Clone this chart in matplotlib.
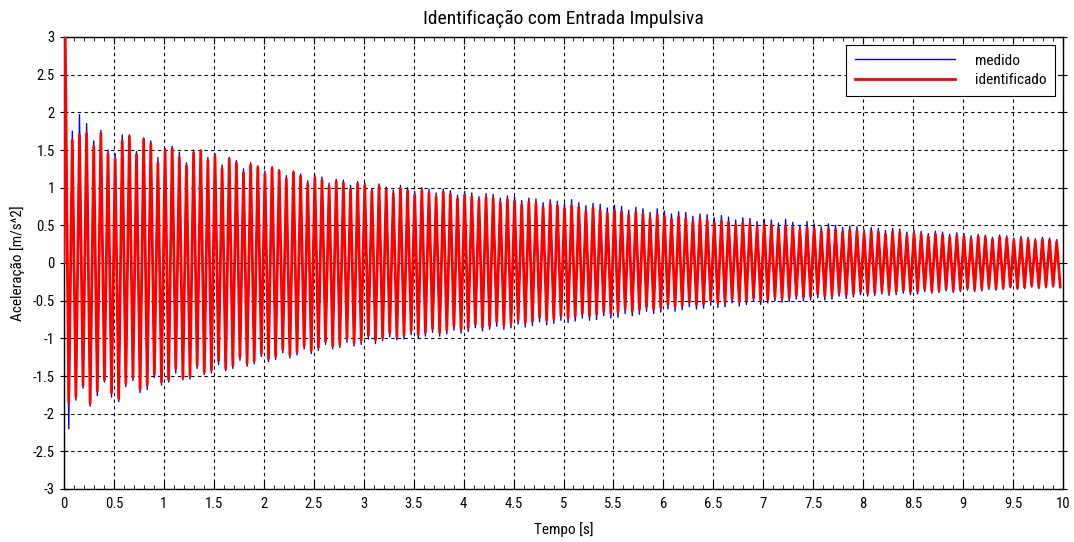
import numpy as np
import matplotlib
matplotlib.use("Agg")
import matplotlib.pyplot as plt
from matplotlib.ticker import MultipleLocator, FormatStrFormatter

plt.rcParams["font.family"] = ["Roboto Condensed", "DejaVu Sans"]

title = "Identificação com Entrada Impulsiva"
xlabel = "Tempo [s]"
ylabel = "Aceleração [m/s^2]"
labels = ["medido", "identificado"]

period = 0.0714       # oscillation period [s]
t_first = 0.012       # time of first peak [s]
start_value = 0.0

# identified signal: peak (max) and trough (min) of each cycle
upper_id = [3.05, 1.63, 1.70, 1.72, 1.55, 1.72, 1.45, 1.38, 1.62, 1.68,
            1.44, 1.64, 1.58, 1.33, 1.50, 1.52, 1.40, 1.29, 1.46, 1.49,
            1.36, 1.42, 1.25, 1.38, 1.33, 1.20, 1.30, 1.27, 1.18, 1.26,
            1.22, 1.12, 1.20, 1.15, 1.05, 1.13, 1.10, 1.02, 1.08, 1.06,
            0.98, 1.05, 1.03, 0.95, 1.02, 0.97, 0.92, 0.99, 0.96, 0.90,
            0.96, 0.93, 0.88, 0.94, 0.91, 0.85, 0.90, 0.88, 0.83, 0.87,
            0.86, 0.80, 0.84, 0.82, 0.77, 0.81, 0.79, 0.74, 0.78, 0.76,
            0.72, 0.76, 0.74, 0.69, 0.73, 0.70, 0.66, 0.70, 0.68, 0.63,
            0.67, 0.65, 0.60, 0.64, 0.62, 0.58, 0.61, 0.59, 0.55, 0.58,
            0.57, 0.53, 0.56, 0.54, 0.50, 0.53, 0.52, 0.48, 0.51, 0.50,
            0.46, 0.49, 0.48, 0.44, 0.47, 0.46, 0.42, 0.45, 0.44, 0.41,
            0.44, 0.43, 0.39, 0.42, 0.41, 0.38, 0.41, 0.40, 0.36, 0.39,
            0.38, 0.35, 0.38, 0.37, 0.34, 0.36, 0.35, 0.32, 0.35, 0.34,
            0.31, 0.34, 0.33, 0.30, 0.32, 0.31, 0.29, 0.31, 0.30, 0.28]
lower_id = [-1.85, -1.78, -1.62, -1.86, -1.70, -1.55, -1.72, -1.80, -1.60, -1.52,
            -1.68, -1.62, -1.48, -1.58, -1.55, -1.40, -1.52, -1.50, -1.36, -1.45,
            -1.42, -1.30, -1.40, -1.36, -1.25, -1.33, -1.30, -1.20, -1.27, -1.24,
            -1.15, -1.22, -1.18, -1.10, -1.16, -1.12, -1.04, -1.10, -1.08, -1.00,
            -1.06, -1.03, -0.96, -1.02, -0.99, -0.93, -0.98, -0.96, -0.90, -0.95,
            -0.92, -0.87, -0.92, -0.89, -0.84, -0.88, -0.86, -0.81, -0.85, -0.83,
            -0.78, -0.82, -0.80, -0.76, -0.79, -0.77, -0.72, -0.76, -0.74, -0.70,
            -0.73, -0.71, -0.67, -0.70, -0.68, -0.64, -0.67, -0.65, -0.61, -0.64,
            -0.62, -0.58, -0.61, -0.59, -0.55, -0.58, -0.56, -0.52, -0.55, -0.54,
            -0.50, -0.53, -0.52, -0.48, -0.51, -0.49, -0.46, -0.49, -0.48, -0.45,
            -0.47, -0.46, -0.43, -0.45, -0.44, -0.41, -0.44, -0.43, -0.40, -0.42,
            -0.41, -0.38, -0.40, -0.39, -0.37, -0.39, -0.38, -0.36, -0.38, -0.37,
            -0.35, -0.37, -0.36, -0.34, -0.36, -0.35, -0.33, -0.35, -0.34, -0.32,
            -0.34, -0.33, -0.31, -0.33, -0.32, -0.30, -0.32, -0.31, -0.30, -0.31]

# measured signal: peak and trough of each cycle
upper_med = [3.05, 1.75, 1.97, 1.85, 1.62, 1.76, 1.50, 1.45, 1.70, 1.70,
             1.48, 1.66, 1.62, 1.40, 1.52, 1.55, 1.47, 1.33, 1.50, 1.50,
             1.40, 1.45, 1.30, 1.40, 1.36, 1.25, 1.33, 1.29, 1.22, 1.28,
             1.24, 1.16, 1.22, 1.18, 1.09, 1.16, 1.14, 1.06, 1.11, 1.10,
             1.03, 1.08, 1.06, 0.99, 1.05, 1.01, 0.97, 1.03, 1.00, 0.95,
             1.00, 0.98, 0.93, 0.98, 0.96, 0.90, 0.95, 0.93, 0.88, 0.92,
             0.91, 0.86, 0.89, 0.88, 0.83, 0.86, 0.85, 0.80, 0.84, 0.82,
             0.79, 0.84, 0.80, 0.76, 0.79, 0.78, 0.73, 0.77, 0.75, 0.70,
             0.74, 0.72, 0.67, 0.72, 0.69, 0.65, 0.68, 0.67, 0.62, 0.65,
             0.64, 0.60, 0.63, 0.61, 0.57, 0.60, 0.59, 0.55, 0.58, 0.57,
             0.53, 0.58, 0.54, 0.50, 0.55, 0.52, 0.48, 0.52, 0.50, 0.47,
             0.49, 0.48, 0.44, 0.47, 0.46, 0.43, 0.46, 0.45, 0.41, 0.44,
             0.42, 0.39, 0.42, 0.41, 0.38, 0.40, 0.39, 0.36, 0.38, 0.37,
             0.34, 0.37, 0.36, 0.33, 0.35, 0.34, 0.32, 0.34, 0.33, 0.31]
lower_med = [-2.20, -1.82, -1.66, -1.90, -1.76, -1.58, -1.78, -1.84, -1.64, -1.56,
             -1.72, -1.68, -1.52, -1.62, -1.58, -1.46, -1.55, -1.54, -1.40, -1.48,
             -1.46, -1.35, -1.43, -1.40, -1.29, -1.37, -1.34, -1.24, -1.31, -1.28,
             -1.19, -1.26, -1.22, -1.14, -1.20, -1.16, -1.08, -1.14, -1.12, -1.05,
             -1.10, -1.08, -1.01, -1.07, -1.03, -0.98, -1.02, -1.01, -0.95, -1.00,
             -0.97, -0.92, -0.97, -0.94, -0.89, -0.93, -0.91, -0.86, -0.90, -0.88,
             -0.84, -0.88, -0.86, -0.81, -0.85, -0.83, -0.78, -0.82, -0.80, -0.76,
             -0.79, -0.77, -0.73, -0.76, -0.75, -0.70, -0.73, -0.72, -0.67, -0.70,
             -0.68, -0.64, -0.67, -0.65, -0.61, -0.64, -0.62, -0.58, -0.61, -0.60,
             -0.56, -0.59, -0.58, -0.53, -0.57, -0.55, -0.51, -0.55, -0.53, -0.50,
             -0.52, -0.51, -0.48, -0.50, -0.49, -0.46, -0.49, -0.48, -0.44, -0.47,
             -0.45, -0.42, -0.44, -0.43, -0.41, -0.43, -0.42, -0.40, -0.42, -0.41,
             -0.38, -0.40, -0.39, -0.37, -0.39, -0.38, -0.36, -0.38, -0.37, -0.35,
             -0.36, -0.35, -0.33, -0.35, -0.34, -0.32, -0.34, -0.33, -0.32, -0.33]


def build(upper, lower):
    n = len(upper)
    tp = t_first + period * np.arange(n)
    t = np.empty(2 * n + 1)
    y = np.empty(2 * n + 1)
    t[0], y[0] = 0.0, start_value
    t[1::2], t[2::2] = tp, tp + period / 2
    y[1::2], y[2::2] = upper, lower
    return t, y


t_med, y_med = build(upper_med, lower_med)
t_id, y_id = build(upper_id, lower_id)

fig = plt.figure(figsize=(10.74, 5.42), dpi=100)
ax = fig.add_axes([64 / 1074, 1 - 489 / 542, (1063 - 64) / 1074, (489 - 37) / 542])

ax.plot(t_med, y_med, color="#0000ff", lw=1.0, label=labels[0], zorder=3)
ax.plot(t_id, y_id, color="#ff0000", lw=2.0, label=labels[1], zorder=4)

ax.set_xlim(0, 10)
ax.set_ylim(-3, 3)
ax.xaxis.set_major_locator(MultipleLocator(0.5))
ax.xaxis.set_minor_locator(MultipleLocator(0.1))
ax.yaxis.set_major_locator(MultipleLocator(0.5))
ax.xaxis.set_major_formatter(FormatStrFormatter("%g"))
ax.yaxis.set_major_formatter(FormatStrFormatter("%g"))
ax.tick_params(axis="x", which="both", direction="in", top=True, labelsize=10.5, pad=6)
ax.tick_params(axis="x", which="major", length=5)
ax.tick_params(axis="x", which="minor", length=3)
ax.tick_params(axis="y", which="both", direction="inout", right=True, labelsize=10.5, length=6)
ax.grid(True, which="major", color="black", linestyle=(0, (3, 3)), linewidth=0.8)
for s in ax.spines.values():
    s.set_linewidth(1.0)

ax.set_title(title, fontsize=14, pad=9)
ax.set_xlabel(xlabel, fontsize=11, labelpad=8)
ax.set_ylabel(ylabel, fontsize=11, labelpad=6)

leg = ax.legend(loc="upper right", fontsize=11, handlelength=6.5, frameon=True, fancybox=False,
                borderpad=0.6, labelspacing=0.35, handletextpad=1.3, borderaxespad=0.5)
leg.get_frame().set_edgecolor("black")
leg.get_frame().set_linewidth(0.8)
leg.get_frame().set_alpha(1)

fig.savefig("out.png", dpi=100)
